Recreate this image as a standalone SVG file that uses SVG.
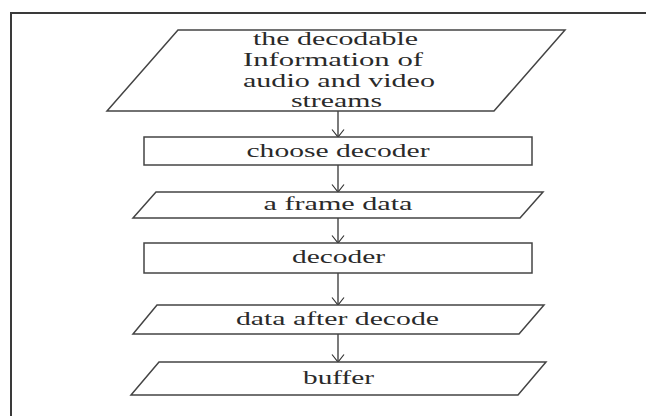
<svg xmlns="http://www.w3.org/2000/svg" width="646" height="416" viewBox="0 0 646 416">
<style>
.shape{fill:#fff;stroke:#444;stroke-width:1.5}
.t{font-family:"Liberation Serif","DejaVu Serif",serif;font-size:18px;fill:#2a2a2a;text-anchor:middle}
.edge{stroke:#333;stroke-width:1.3;fill:none}
.frame{fill:none;stroke:#3a3a3a;stroke-width:2}
</style>
<defs>
<marker id="arr" markerWidth="10" markerHeight="14" refX="8" refY="6.5" orient="auto" markerUnits="userSpaceOnUse" viewBox="0 0 10 14">
<path d="M0.5,0.5 L8,6.5 L0.5,12.5" fill="none" stroke="#333" stroke-width="1.2"/>
</marker>
</defs>
<rect width="646" height="416" fill="#fff"/>
<path class="frame" d="M11,420 V13 H650"/>
<g id="connectors">
<line class="edge" x1="338" y1="111" x2="338" y2="137" marker-end="url(#arr)"/>
<line class="edge" x1="338" y1="165" x2="338" y2="192" marker-end="url(#arr)"/>
<line class="edge" x1="338" y1="218" x2="338" y2="243" marker-end="url(#arr)"/>
<line class="edge" x1="338" y1="273" x2="338" y2="305" marker-end="url(#arr)"/>
<line class="edge" x1="338" y1="334" x2="338" y2="362" marker-end="url(#arr)"/>
</g>
<g id="input">
<polygon class="shape" points="178,30 565,30 494,111 107,111"/>
<text class="t" x="335.5" y="45" textLength="165" lengthAdjust="spacingAndGlyphs">the decodable</text>
<text class="t" x="333" y="66" textLength="180" lengthAdjust="spacingAndGlyphs">Information of</text>
<text class="t" x="339" y="87" textLength="192" lengthAdjust="spacingAndGlyphs">audio and video</text>
<text class="t" x="336.5" y="107" textLength="91" lengthAdjust="spacingAndGlyphs">streams</text>
</g>
<g id="choose">
<rect class="shape" x="144" y="137" width="388" height="28"/>
<text class="t" x="338" y="157" textLength="183" lengthAdjust="spacingAndGlyphs">choose decoder</text>
</g>
<g id="frame-data">
<polygon class="shape" points="156,192 543,192 520,218 133,218"/>
<text class="t" x="338" y="210" textLength="149" lengthAdjust="spacingAndGlyphs">a frame data</text>
</g>
<g id="decoder">
<rect class="shape" x="144" y="243" width="388" height="30"/>
<text class="t" x="338.5" y="263" textLength="93" lengthAdjust="spacingAndGlyphs">decoder</text>
</g>
<g id="after-decode">
<polygon class="shape" points="157,305 544,305 519,334 133,334"/>
<text class="t" x="337.5" y="325" textLength="203" lengthAdjust="spacingAndGlyphs">data after decode</text>
</g>
<g id="buffer">
<polygon class="shape" points="159,362 546,362 518,395 131,395"/>
<text class="t" x="338.5" y="384" textLength="71" lengthAdjust="spacingAndGlyphs">buffer</text>
</g>
</svg>
